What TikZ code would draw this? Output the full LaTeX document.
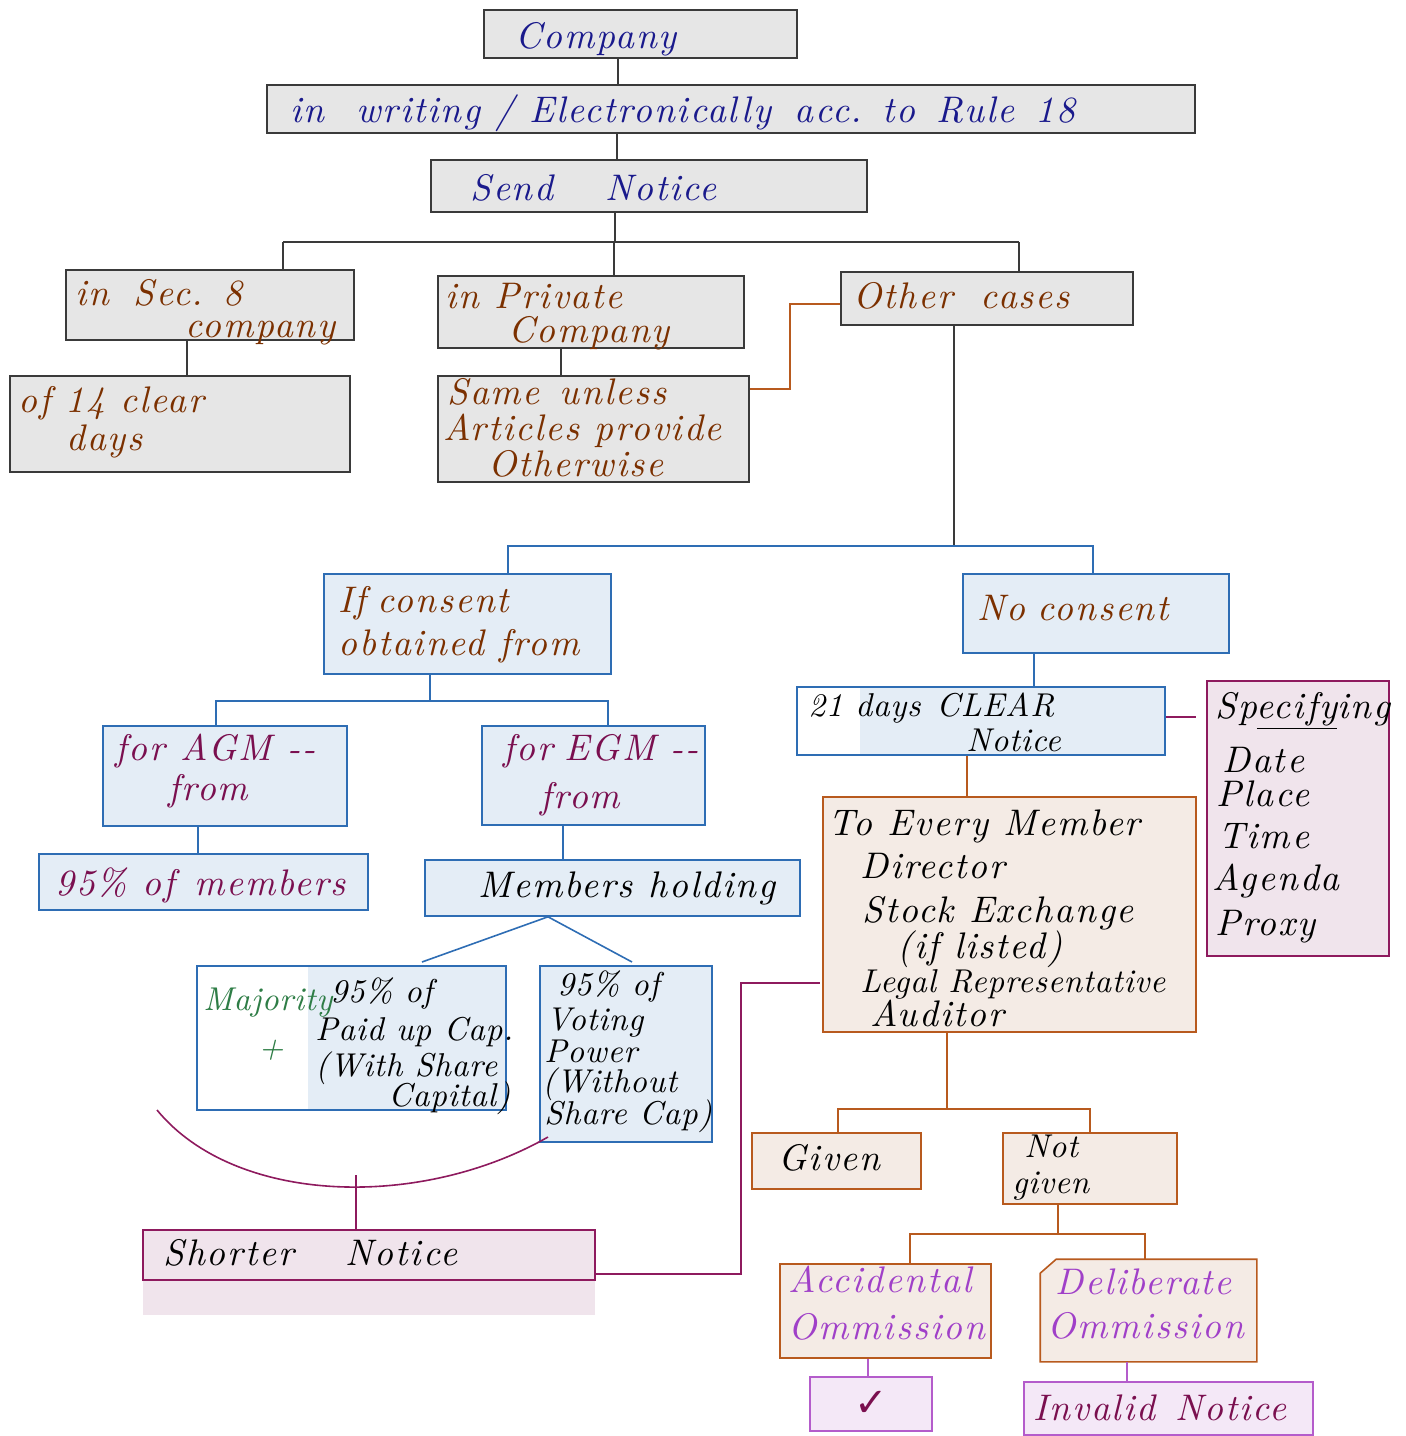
\documentclass[tikz,border=0pt]{standalone}
\usepackage{fontspec}
\usetikzlibrary{fit}
\newfontfamily\hand{lmroman10-italic.otf}[LetterSpace=5]
\newfontfamily\handn{lmroman10-italic.otf}[LetterSpace=2]
\newfontfamily\symf{DejaVu Sans}
\definecolor{navyT}{HTML}{1A1A8C}
\definecolor{brownT}{HTML}{7B3000}
\definecolor{maroonT}{HTML}{7A0F4F}
\definecolor{purpleT}{HTML}{A040C8}
\definecolor{greenT}{HTML}{2E7D46}
\definecolor{greyF}{HTML}{E6E6E6}
\definecolor{greyD}{HTML}{3A3A3A}
\definecolor{blueD}{HTML}{2E6DB4}
\definecolor{blueF}{HTML}{E4EDF6}
\definecolor{orangeD}{HTML}{B85A1E}
\definecolor{orangeF}{HTML}{F4EBE5}
\definecolor{pinkF}{HTML}{F0E4EC}
\definecolor{maroonD}{HTML}{8E1A5E}
\definecolor{lavF}{HTML}{F4E8F7}
\definecolor{lavD}{HTML}{B45CCB}
\begin{document}
\begin{tikzpicture}[x=0.5pt,y=-0.5pt,
  bx/.style={draw, line width=0.8pt, inner sep=0pt, fit={#1}},
  gbox/.style={bx={#1}, draw=greyD, fill=greyF},
  bbox/.style={bx={#1}, draw=blueD, fill=blueF},
  obox/.style={bx={#1}, draw=orangeD, fill=orangeF},
  pbox/.style={bx={#1}, draw=maroonD, fill=pinkF},
  lbox/.style={bx={#1}, draw=lavD, fill=lavF},
  txt/.style={anchor=base west, inner sep=0pt, font=\hand\fontsize{18.5}{21}\selectfont},
  txs/.style={anchor=base west, inner sep=0pt, font=\handn\fontsize{16.5}{19}\selectfont},
  gl/.style={draw=greyD, line width=0.8pt},
  bl/.style={draw=blueD, line width=0.8pt},
  ol/.style={draw=orangeD, line width=0.8pt},
  ml/.style={draw=maroonD, line width=0.8pt},
  ll/.style={draw=lavD, line width=0.8pt}]
\useasboundingbox (0,0) rectangle (1405,1436);

% ---------- boxes ----------
\node[gbox={(484,10) (797,58)}] (company) {};
\node[gbox={(267,85) (1195,133)}] (writing) {};
\node[gbox={(431,160) (867,212)}] (send) {};
\node[gbox={(66,270) (354,340)}] (sec8) {};
\node[gbox={(10,376) (350,472)}] (days14) {};
\node[gbox={(438,276) (744,348)}] (priv) {};
\node[gbox={(438,376) (749,482)}] (same) {};
\node[gbox={(841,272) (1133,325)}] (other) {};
\node[bbox={(324,574) (611,674)}] (ifc) {};
\node[bbox={(963,574) (1229,653)}] (noc) {};
\node[bbox={(103,726) (347,826)}] (agm) {};
\node[bbox={(482,726) (705,825)}] (egm) {};
\node[bbox={(39,854) (368,910)}] (p95) {};
\node[bbox={(425,860) (800,916)}] (holding) {};
\fill[white] (197,966) rectangle (308,1110);
\fill[blueF] (308,966) rectangle (506,1110);
\node[bx={(197,966) (506,1110)}, draw=blueD] (paid) {};
\node[bbox={(540,966) (712,1142)}] (voting) {};
\fill[pinkF] (143,1280) rectangle (595,1315);
\node[pbox={(143,1230) (595,1280)}] (shorter) {};
\fill[white] (797,687) rectangle (860,755);
\fill[blueF] (860,687) rectangle (1165,755);
\node[bx={(797,687) (1165,755)}, draw=blueD] (clear) {};
\node[pbox={(1207,681) (1389,956)}] (spec) {};
\node[obox={(823,797) (1196,1032)}] (every) {};
\node[obox={(752,1133) (921,1189)}] (given) {};
\node[obox={(1003,1133) (1177,1204)}] (notgiven) {};
\node[obox={(780,1264) (991,1358)}] (acc) {};
\node[bx={(1041,1260) (1256,1361)}, draw=none] (del) {};
\filldraw[draw=orangeD, fill=orangeF, line width=0.8pt]
  (del.north west) ++(0,14) -- ++(16,-14) -- (del.north east) -- (del.south east) -- (del.south west) -- cycle;
\node[lbox={(810,1377) (932,1431)}] (tick) {};
\node[lbox={(1024,1382) (1313,1435)}] (invalid) {};

% ---------- texts ----------
\node[txt, text=navyT] (tcompany) at (515,48) {Company};
\node[txt, text=navyT] (twriting) at (290,122) {in\hspace{16pt}writing / Electronically\hspace{4pt} acc. to\hspace{3pt} Rule\hspace{3pt} 18};
\node[txt, text=navyT] (tsend) at (470,200) {Send\hspace{26pt}Notice};
\node[txt, text=brownT] (tsec8a) at (75,305) {in\hspace{12pt}Sec. 8};
\node[txt, text=brownT] (tsec8b) at (185,337) {company};
\node[txt, text=brownT] (t14a) at (18,412) {of 14 clear};
\node[txt, text=brownT] (t14b) at (66,450) {days};
\node[txt, text=brownT] (tpriva) at (445,308) {in Private};
\node[txt, text=brownT] (tprivb) at (508,342) {Company};
\node[txt, text=brownT] (tsamea) at (447,404) {Same\hspace{10pt}unless};
\node[txt, text=brownT] (tsameb) at (443,440) {Articles provide};
\node[txt, text=brownT] (tsamec) at (488,476) {Otherwise};
\node[txt, text=brownT] (tother) at (853,308) {Other\hspace{14pt}cases};
\node[txt, text=brownT] (tifca) at (338,612) {If\hspace{6pt}consent};
\node[txt, text=brownT] (tifcb) at (338,655) {obtained from};
\node[txt, text=brownT] (tnoc) at (977,620) {No\hspace{6pt}consent};
\node[txt, text=maroonT] (tagma) at (115,760) {for\hspace{8pt}AGM --};
\node[txt, text=maroonT] (tagmb) at (168,800) {from};
\node[txt, text=maroonT] (tegma) at (503,760) {for\hspace{6pt}EGM --};
\node[txt, text=maroonT] (tegmb) at (540,808) {from};
\node[txt, text=maroonT] (tp95) at (55,895) {95\% of\hspace{10pt}members};
\node[txt] (thold) at (478,897) {Members\hspace{8pt}holding};
\node[txs, text=greenT] (tmaj) at (203,1010) {Majority};
\node[txs, text=greenT] (tplus) at (258,1058) {+};
\node[txs] (tpaida) at (330,1002) {95\% of};
\node[txs] (tpaidb) at (315,1040) {Paid up Cap.};
\node[txs] (tpaidc) at (315,1076) {(With Share};
\node[txs] (tpaidd) at (388,1106) {Capital)};
\node[txs] (tvota) at (557,995) {95\% of};
\node[txs] (tvotb) at (546,1030) {Voting};
\node[txs] (tvotc) at (544,1062) {Power};
\node[txs] (tvotd) at (542,1092) {(Without};
\node[txs] (tvote) at (544,1124) {Share Cap)};
\node[txt] (tshort) at (163,1265) {Shorter\hspace{26pt}Notice};
\node[txs] (tcleara) at (808,716) {21 days\hspace{8pt}CLEAR};
\node[txs] (tclearb) at (966,751) {Notice};
\node[txt] (tspeca) at (1215,718) {Sp\underline{ecify}ing};
\node[txt] (tspecb) at (1222,772) {Date};
\node[txt] (tspecc) at (1216,806) {Place};
\node[txt] (tspecd) at (1218,848) {Time};
\node[txt] (tspece) at (1212,890) {Agenda};
\node[txt] (tspecf) at (1215,935) {Proxy};
\node[txt] (teva) at (828,835) {To Every Member};
\node[txt] (tevb) at (860,878) {Director};
\node[txt] (tevc) at (862,922) {Stock Exchange};
\node[txt] (tevd) at (897,958) {(if listed)};
\node[txs] (teve) at (860,992) {Legal Representative};
\node[txt] (tevf) at (870,1026) {Auditor};
\node[txt] (tgiven) at (778,1170) {Given};
\node[txs] (tnga) at (1024,1157) {Not};
\node[txs] (tngb) at (1012,1193) {given};
\node[txt, text=purpleT] (tacca) at (788,1292) {Accidental};
\node[txt, text=purpleT] (taccb) at (788,1339) {Ommission};
\node[txt, text=purpleT] (tdela) at (1055,1294) {Deliberate};
\node[txt, text=purpleT] (tdelb) at (1047,1338) {Ommission};
\node[anchor=center, inner sep=0pt, text=maroonT, font=\symf\fontsize{20}{22}\selectfont] (ttick) at (tick.center) {✓};
\node[txt, text=maroonT] (tinv) at (1033,1420) {Invalid\hspace{10pt}Notice};

% ---------- connectors ----------
\coordinate (c1) at (618,70);
\draw[gl] (c1 |- company.south) -- (c1 |- writing.north);
\coordinate (c2) at (617,145);
\draw[gl] (c2 |- writing.south) -- (c2 |- send.north);
\coordinate (bus) at (615,242);
\coordinate (d1) at (283,242);
\coordinate (d2) at (614,242);
\coordinate (d3) at (1019,242);
\draw[gl] (bus |- send.south) -- (bus);
\draw[gl] (d1) -- (d3);
\draw[gl] (d1) -- (d1 |- sec8.north);
\draw[gl] (d2) -- (d2 |- priv.north);
\draw[gl] (d3) -- (d3 |- other.north);
\coordinate (c3) at (187,360);
\draw[gl] (c3 |- sec8.south) -- (c3 |- days14.north);
\coordinate (c4) at (561,360);
\draw[gl] (c4 |- priv.south) -- (c4 |- same.north);
\coordinate (ob1) at (790,304);
\coordinate (ob2) at (790,389);
\draw[ol] (ob1 -| other.west) -- (ob1) -- (ob2) -- (ob2 -| same.east);
\coordinate (bus2) at (954,546);
\draw[gl] (bus2 |- other.south) -- (bus2);
\coordinate (e1) at (508,546);
\coordinate (e2) at (1093,546);
\draw[bl] (e1 |- ifc.north) -- (e1) -- (e2) -- (e2 |- noc.north);
\coordinate (bus3) at (430,701);
\coordinate (f1) at (216,701);
\coordinate (f2) at (608,701);
\draw[bl] (bus3 |- ifc.south) -- (bus3);
\draw[bl] (f1 |- agm.north) -- (f1) -- (f2) -- (f2 |- egm.north);
\coordinate (c5) at (198,840);
\draw[bl] (c5 |- agm.south) -- (c5 |- p95.north);
\coordinate (c6) at (563,840);
\draw[bl] (c6 |- egm.south) -- (c6 |- holding.north);
\coordinate (h0) at (548,916);
\coordinate (h1) at (422,962);
\coordinate (h2) at (632,962);
\draw[bl] (h1) -- (h0 |- holding.south) -- (h2);
\coordinate (c7) at (1034,670);
\draw[bl] (c7 |- noc.south) -- (c7 |- clear.north);
\coordinate (s1) at (1196,717);
\draw[ml] (s1 -| clear.east) -- (s1);
\coordinate (c8) at (967,775);
\draw[ol] (c8 |- clear.south) -- (c8 |- every.north);
\coordinate (bus4) at (947,1109);
\coordinate (g1) at (838,1109);
\coordinate (g2) at (1090,1109);
\draw[ol] (bus4 |- every.south) -- (bus4);
\draw[ol] (g1 |- given.north) -- (g1) -- (g2) -- (g2 |- notgiven.north);
\coordinate (bus5) at (1058,1234);
\coordinate (k1) at (910,1234);
\coordinate (k2) at (1145,1234);
\draw[ol] (bus5 |- notgiven.south) -- (bus5);
\draw[ol] (k1 |- acc.north) -- (k1) -- (k2) -- (k2 |- del.north);
\coordinate (c9) at (868,1368);
\draw[ll] (c9 |- acc.south) -- (c9 |- tick.north);
\coordinate (c10) at (1127,1370);
\draw[ll] (c10 |- del.south) -- (c10 |- invalid.north);
\coordinate (m1) at (741,1274);
\coordinate (m2) at (741,983);
\coordinate (m3) at (820,983);
\draw[ml] (m1 -| shorter.east) -- (m1) -- (m2) -- (m3);
\coordinate (a1) at (157,1110);
\coordinate (a2) at (548,1137);
\coordinate (a3) at (356,1175);
\draw[ml] (a1) .. controls (235,1205) and (420,1210) .. (a2);
\draw[ml] (a3) -- (a3 |- shorter.north);
\end{tikzpicture}
\end{document}
